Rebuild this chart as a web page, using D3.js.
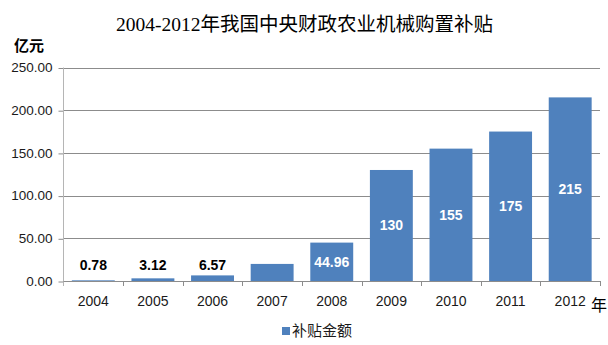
<!DOCTYPE html>
<html><head><meta charset="utf-8">
<script src="https://cdn.jsdelivr.net/npm/d3@7"></script>
<style>
body{margin:0;background:#fff;}
svg{display:block;}
</style></head>
<body>
<svg id="chart" width="608" height="345"></svg>
<script>
const years = ["2004","2005","2006","2007","2008","2009","2010","2011","2012"];
const values = [0.78, 3.12, 6.57, 20, 44.96, 130, 155, 175, 215];
const labels = ["0.78","3.12","6.57","","44.96","130","155","175","215"];
const yTicks = [0, 50, 100, 150, 200, 250];
const title = "2004-2012年我国中央财政农业机械购置补贴";
const yUnit = "亿元";
const xUnit = "年";
const seriesName = "补贴金额";

const svg = d3.select("#chart");
const plot = {left: 63.5, right: 600, top: 67.5, bottom: 281};
const barColor = "#4F81BD";
const gridColor = "#8c8c8c";

const x = d3.scaleBand().domain(years).range([plot.left, plot.right]).paddingInner(0.28).paddingOuter(0.14);
const y = d3.scaleLinear().domain([0, 250]).range([plot.bottom, plot.top]);

// gridlines
svg.append("g").selectAll("line").data(yTicks.filter(d => d > 0)).join("line")
  .attr("x1", plot.left).attr("x2", plot.right)
  .attr("y1", d => Math.round(y(d)) + 0.5).attr("y2", d => Math.round(y(d)) + 0.5)
  .attr("stroke", gridColor).attr("stroke-width", 1);

// y axis
const yAxis = d3.axisLeft(y).tickValues(yTicks).tickSize(5).tickPadding(6).tickFormat(d3.format(".2f"));
const gy = svg.append("g").attr("transform", `translate(${plot.left},0)`).call(yAxis);
gy.select(".domain").remove();
gy.selectAll(".tick line").attr("stroke", gridColor).attr("transform", "translate(0,0.5)");
gy.selectAll(".tick text").attr("font-family", "'Liberation Sans', Arial, sans-serif").attr("font-size", 13.5).attr("fill", "#1a1a1a");
svg.append("line").attr("x1", plot.left).attr("x2", plot.left).attr("y1", plot.top).attr("y2", plot.bottom + 5)
  .attr("stroke", "#b5b5b5");

// bars
svg.append("g").selectAll("rect").data(years).join("rect")
  .attr("x", d => x(d)).attr("width", x.bandwidth())
  .attr("y", (d, i) => y(values[i])).attr("height", (d, i) => y(0) - y(values[i]))
  .attr("fill", barColor);

// x axis line
svg.append("line").attr("x1", plot.left).attr("x2", plot.right)
  .attr("y1", Math.round(y(0)) + 0.5).attr("y2", Math.round(y(0)) + 0.5).attr("stroke", gridColor);
// x ticks at band boundaries
const bounds = years.map(d => x(d) - x.step() * x.paddingInner() / 2).concat([plot.right]);
svg.append("g").selectAll("line").data(bounds.slice(1)).join("line")
  .attr("x1", d => Math.round(d) + 0.5).attr("x2", d => Math.round(d) + 0.5)
  .attr("y1", y(0)).attr("y2", y(0) + 5).attr("stroke", gridColor);
// x labels
svg.append("g").selectAll("text").data(years).join("text")
  .attr("x", d => x(d) + x.bandwidth() / 2).attr("y", y(0) + 25)
  .attr("text-anchor", "middle")
  .attr("font-family", "'Liberation Sans', Arial, sans-serif").attr("font-size", 14).attr("fill", "#1a1a1a")
  .text(d => d);

// data labels
svg.append("g").selectAll("text").data(years).join("text")
  .attr("x", d => x(d) + x.bandwidth() / 2)
  .attr("y", (d, i) => values[i] > 30 ? (y(values[i]) + y(0)) / 2 + 5 : y(0) - 11)
  .attr("text-anchor", "middle")
  .attr("font-family", "'Liberation Sans', Arial, sans-serif").attr("font-size", 14).attr("font-weight", "bold")
  .attr("fill", (d, i) => values[i] > 30 ? "#fff" : "#000")
  .text((d, i) => labels[i]);

// title
svg.append("text").attr("x", 304.5).attr("y", 31).attr("text-anchor", "middle")
  .attr("font-family", "'Liberation Serif', 'Noto Sans CJK SC', serif").attr("font-size", 19.5).attr("fill", "#000")
  .text(title);

// unit labels
svg.append("text").attr("x", 14).attr("y", 51)
  .attr("font-family", "'Noto Sans CJK SC', sans-serif").attr("font-size", 15).attr("font-weight", "bold").attr("fill", "#000")
  .text(yUnit);
svg.append("text").attr("x", 591).attr("y", 311)
  .attr("font-family", "'Noto Sans CJK SC', sans-serif").attr("font-size", 16).attr("fill", "#000")
  .text(xUnit);

// legend
svg.append("rect").attr("x", 282).attr("y", 327).attr("width", 8).attr("height", 8).attr("fill", barColor);
svg.append("text").attr("x", 292).attr("y", 336)
  .attr("font-family", "'Noto Sans CJK SC', sans-serif").attr("font-size", 15).attr("fill", "#1a1a1a")
  .text(seriesName);
</script>
</body></html>
